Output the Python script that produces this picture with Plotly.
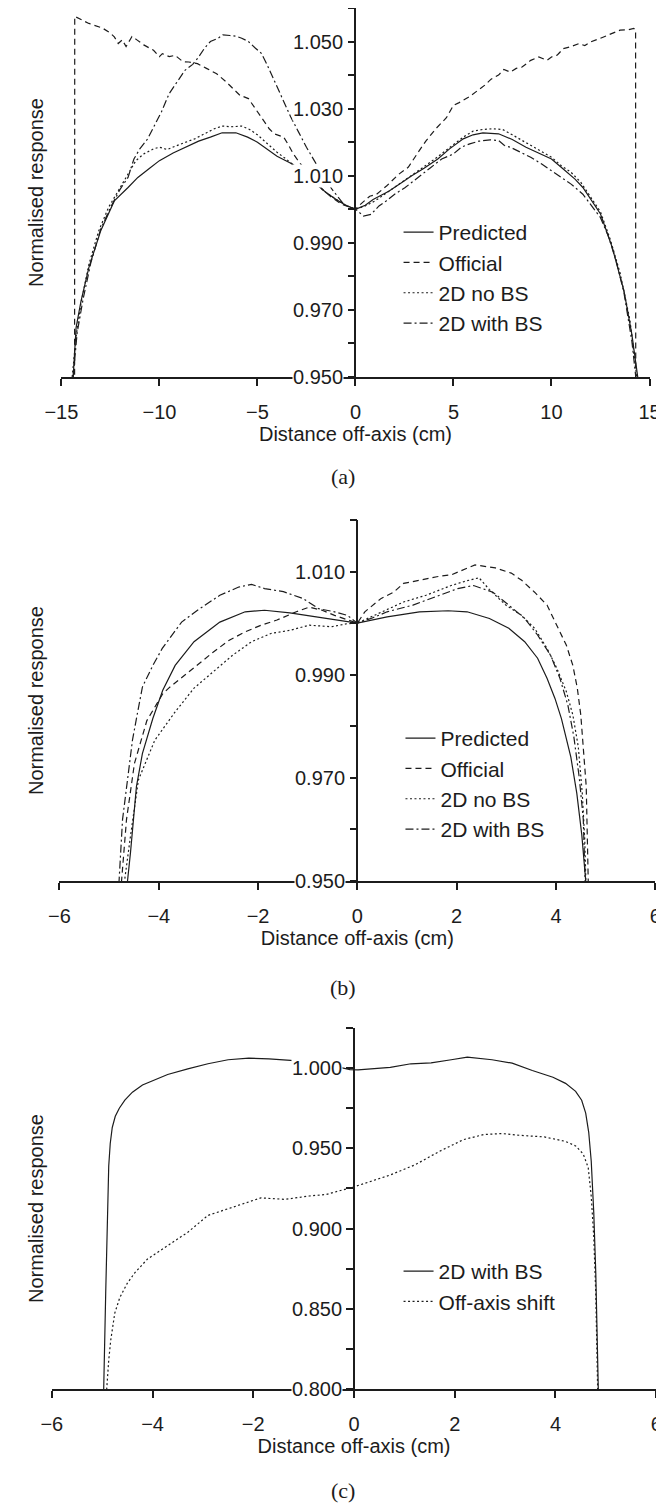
import plotly.graph_objects as go

# ---------------- Panel (a) data (field -15..15 cm) ----------------
a_pred_x = [-14.4, -14.25, -14.0, -13.6, -13.0, -12.3, -11.6, -11.1, -10.5, -10.0, -9.3, -8.7, -8.0, -7.4, -6.8, -6.1,
            -5.5, -5.0, -4.5, -4.0, -3.2, -2.6, -2.0, -1.5, -1.0, -0.5, 0.0, 0.5, 0.9, 1.7, 2.5, 2.85, 3.5, 4.2,
            4.8, 5.5, 6.0, 6.5, 7.3, 8.0, 8.7, 9.4, 10.0, 10.6, 11.2, 11.6, 12.0, 12.5, 13.1, 13.7, 14.1, 14.4]
a_pred_y = [0.950, 0.9647, 0.9726, 0.9826, 0.9935, 1.0025, 1.0065, 1.0095, 1.0122, 1.0145, 1.0168, 1.0185, 1.0203,
            1.0215, 1.0228, 1.0228, 1.0215, 1.0200, 1.0180, 1.0158, 1.0134, 1.0105, 1.0075, 1.0050, 1.0030, 1.0012,
            1.0000, 1.0012, 1.0029, 1.0054, 1.0085, 1.0099, 1.0122, 1.0150, 1.0180, 1.0210, 1.0222, 1.0228, 1.0225,
            1.0208, 1.0185, 1.0165, 1.0150, 1.0120, 1.0090, 1.0065, 1.0030, 0.9986, 0.9886, 0.9756, 0.9627, 0.950]

a_off_x = [-14.33, -14.32, -13.6, -12.9, -12.5, -12.3, -12.1, -11.9, -11.7, -11.4, -11.15, -10.8, -10.3, -10.0, -9.85,
           -9.5, -9.2, -8.8, -8.5, -8.06, -7.6, -7.08, -6.6, -6.27, -5.9, -5.46, -5.1, -4.8, -4.4, -4.15, -3.66,
           -3.4, -3.17, -2.8, -2.5, -2.1, -1.7, -1.2, -0.7, 0.0, 0.24, 0.73, 1.06, 1.6, 2.2, 2.69, 3.2, 3.6, 4.1,
           4.64, 5.0, 5.29, 5.8, 6.27, 6.6, 6.92, 7.3, 7.57, 7.9, 8.2, 8.5, 8.94, 9.35, 9.77, 10.0, 10.3, 10.6,
           11.0, 11.4, 11.7, 12.0, 12.5, 12.9, 13.2, 13.5, 13.9, 14.2, 14.29, 14.3]
a_off_y = [0.900, 1.0575, 1.0554, 1.0540, 1.0525, 1.0514, 1.0494, 1.0505, 1.0485, 1.0515, 1.0505, 1.0490, 1.0474,
           1.0455, 1.0464, 1.0455, 1.0459, 1.0440, 1.0439, 1.0434, 1.0420, 1.0404, 1.0380, 1.0360, 1.0340, 1.0330,
           1.0300, 1.0275, 1.0240, 1.0225, 1.0215, 1.0190, 1.0165, 1.0135, 1.0115, 1.0090, 1.0060, 1.0035, 1.0015,
           1.0000, 1.0014, 1.0039, 1.0044, 1.0070, 1.0104, 1.0125, 1.0170, 1.0204, 1.0240, 1.0273, 1.0310, 1.0318,
           1.0335, 1.0354, 1.0370, 1.0388, 1.0400, 1.0417, 1.0409, 1.0420, 1.0424, 1.0444, 1.0454, 1.0444, 1.0454,
           1.0460, 1.0479, 1.0485, 1.0494, 1.0488, 1.0499, 1.0510, 1.0519, 1.0525, 1.0534, 1.0535, 1.0539, 1.0535,
           0.900]

a_nobs_x = [-14.45, -14.25, -14.0, -13.6, -13.1, -12.6, -12.1, -11.6, -11.2, -10.8, -10.3, -10.0, -9.6, -9.2, -8.7,
            -8.2, -7.7, -7.2, -6.8, -6.3, -5.8, -5.4, -5.0, -4.5, -4.0, -3.5, -3.0, -2.5, -2.0, -1.5, -1.0, -0.5,
            0.0, 0.5, 1.0, 1.5, 2.0, 2.5, 3.0, 3.5, 4.0, 4.5, 5.0, 5.5, 6.0, 6.5, 7.0, 7.5, 8.0, 8.5, 9.0, 9.5,
            10.0, 10.5, 11.0, 11.5, 12.0, 12.5, 13.0, 13.5, 14.0, 14.35]
a_nobs_y = [0.950, 0.962, 0.972, 0.9835, 0.9935, 1.0005, 1.0055, 1.0105, 1.0145, 1.0165, 1.0180, 1.0185, 1.0178,
            1.0188, 1.0198, 1.0210, 1.0225, 1.0240, 1.0248, 1.0246, 1.0248, 1.0238, 1.0222, 1.0195, 1.0170, 1.0148,
            1.0125, 1.0100, 1.0075, 1.0050, 1.0030, 1.0012, 1.0000, 1.0010, 1.0025, 1.0045, 1.0065, 1.0085, 1.0105,
            1.0127, 1.0148, 1.0170, 1.0192, 1.0215, 1.0233, 1.0238, 1.0240, 1.0238, 1.0222, 1.0205, 1.0190, 1.0172,
            1.0155, 1.0130, 1.0110, 1.0080, 1.0035, 0.9992, 0.9910, 0.9810, 0.9670, 0.950]

a_bs_x = [-14.4, -14.2, -13.9, -13.5, -13.0, -12.5, -12.0, -11.6, -11.3, -11.0, -10.6, -10.3, -9.9, -9.5, -9.1,
          -8.7, -8.3, -8.0, -7.7, -7.4, -7.0, -6.76, -6.4, -6.1, -5.8, -5.46, -5.1, -4.8, -4.5, -4.15, -3.7, -3.3,
          -2.9, -2.5, -2.1, -1.7, -1.2, -0.6, 0.0, 0.41, 0.8, 1.2, 1.55, 2.0, 2.52, 3.0, 3.4, 3.83, 4.4, 5.0, 5.4,
          5.83, 6.3, 6.87, 7.3, 7.6, 7.9, 8.4, 8.94, 9.5, 10.0, 10.5, 11.0, 11.6, 12.0, 12.5, 12.9, 13.3, 13.7,
          14.1, 14.3]
a_bs_y = [0.950, 0.963, 0.973, 0.984, 0.994, 1.0005, 1.0060, 1.0095, 1.0150, 1.0180, 1.0210, 1.0245, 1.0290, 1.0345,
          1.0380, 1.0414, 1.0432, 1.0454, 1.0480, 1.0500, 1.0510, 1.0520, 1.0518, 1.0516, 1.0510, 1.0500, 1.0480,
          1.0465, 1.0430, 1.0385, 1.0330, 1.0275, 1.0230, 1.0185, 1.0145, 1.0105, 1.0060, 1.0015, 1.0000, 0.9980,
          0.9985, 1.0010, 1.0024, 1.0045, 1.0064, 1.0085, 1.0105, 1.0124, 1.0150, 1.0165, 1.0185, 1.0195, 1.0203,
          1.0207, 1.0205, 1.0190, 1.0185, 1.0170, 1.0155, 1.0135, 1.0115, 1.0095, 1.0075, 1.0045, 1.0015, 0.9975,
          0.9920, 0.9846, 0.9750, 0.9607, 0.950]

# ---------------- Panel (b) data (field -6..6 cm) ----------------
b_pred_x = [-4.66, -4.63, -4.57, -4.45, -4.33, -4.12, -3.92, -3.67, -3.29, -2.77, -2.26, -1.87, -1.36, -0.84, -0.33,
            0.0, 0.6, 1.25, 1.83, 2.21, 2.66, 3.05, 3.37, 3.63, 3.82, 3.98, 4.11, 4.3, 4.42, 4.52, 4.6, 4.63]
b_pred_y = [0.940, 0.950, 0.9555, 0.9683, 0.9747, 0.9815, 0.9870, 0.9918, 0.9964, 1.0002, 1.0022, 1.0025, 1.0020,
            1.0012, 1.0004, 1.0000, 1.0012, 1.0022, 1.0024, 1.0022, 1.0009, 0.9990, 0.9964, 0.9932, 0.9893, 0.9854,
            0.9815, 0.9740, 0.9670, 0.9590, 0.950, 0.940]

b_off_x = [-4.8, -4.75, -4.65, -4.49, -4.24, -3.92, -3.8, -3.48, -3.16, -2.9, -2.58, -2.26, -1.94, -1.62, -1.23,
           -0.97, -0.71, -0.46, 0.0, 0.15, 0.48, 0.73, 0.93, 1.25, 1.6, 1.9, 2.12, 2.37, 2.78, 3.1, 3.31, 3.57,
           3.82, 4.02, 4.21, 4.34, 4.43, 4.5, 4.56, 4.61, 4.65, 4.68]
b_off_y = [0.940, 0.950, 0.9619, 0.9728, 0.9811, 0.9863, 0.9874, 0.9899, 0.9925, 0.9944, 0.9967, 0.9983, 0.9996,
           1.0006, 1.0022, 1.0031, 1.0025, 1.0015, 1.0000, 1.0022, 1.0048, 1.0060, 1.0077, 1.0083, 1.0090, 1.0094,
           1.0103, 1.0113, 1.0107, 1.0097, 1.0083, 1.0060, 1.0035, 0.9996, 0.9957, 0.9918, 0.9874, 0.9822, 0.9750,
           0.9683, 0.950, 0.940]

b_nobs_x = [-4.72, -4.69, -4.57, -4.41, -4.08, -3.67, -3.29, -2.9, -2.51, -2.13, -1.74, -1.36, -0.97, -0.52, -0.2,
            0.0, 0.35, 0.93, 1.38, 1.89, 2.2, 2.45, 2.66, 2.99, 3.31, 3.57, 3.82, 4.02, 4.21, 4.34, 4.45, 4.53,
            4.58, 4.61, 4.63]
b_nobs_y = [0.940, 0.950, 0.9587, 0.9696, 0.9773, 0.9828, 0.9874, 0.9906, 0.9938, 0.9964, 0.9980, 0.9986, 0.9996,
            0.9993, 0.9999, 1.0000, 1.0015, 1.0041, 1.0054, 1.0073, 1.0082, 1.0088, 1.0065, 1.0035, 1.0015, 0.9990,
            0.9951, 0.9912, 0.9867, 0.9822, 0.9760, 0.9670, 0.9580, 0.950, 0.940]

b_bs_x = [-4.83, -4.8, -4.73, -4.65, -4.53, -4.45, -4.33, -4.12, -3.93, -3.54, -3.22, -2.77, -2.39, -2.13, -1.87,
          -1.49, -1.1, -0.78, -0.46, -0.2, 0.0, 0.3, 0.6, 1.12, 1.57, 2.02, 2.34, 2.73, 3.05, 3.37, 3.63, 3.89,
          4.08, 4.24, 4.36, 4.47, 4.55, 4.6, 4.62]
b_bs_y = [0.940, 0.950, 0.9619, 0.9683, 0.9773, 0.9815, 0.9876, 0.9918, 0.9951, 1.0002, 1.0025, 1.0054, 1.0070,
          1.0075, 1.0067, 1.0061, 1.0048, 1.0028, 1.0022, 1.0015, 1.0000, 1.0010, 1.0022, 1.0035, 1.0051, 1.0067,
          1.0073, 1.0060, 1.0035, 1.0009, 0.9977, 0.9938, 0.9893, 0.9841, 0.9780, 0.9700, 0.9620, 0.950, 0.940]

# ---------------- Panel (c) data ----------------
c_bs_x = [-5.0, -4.97, -4.93, -4.91, -4.89, -4.87, -4.84, -4.8, -4.74, -4.66, -4.55, -4.4, -4.2, -3.95, -3.7, -3.3,
          -2.9, -2.5, -2.09, -1.69, -1.37, -0.9, -0.5, -0.08, 0.08, 0.72, 1.13, 1.53, 1.93, 2.25, 2.74, 3.14, 3.54,
          3.95, 4.2, 4.4, 4.52, 4.6, 4.66, 4.71, 4.76, 4.8, 4.85, 4.87]
c_bs_y = [0.780, 0.800, 0.8600, 0.8935, 0.9180, 0.9390, 0.9530, 0.9630, 0.9700, 0.9750, 0.9800, 0.9850, 0.9895,
          0.9930, 0.9960, 0.9995, 1.0027, 1.0052, 1.0062, 1.0058, 1.0052, 1.0040, 1.0020, 0.9991, 0.9989, 1.0005,
          1.0027, 1.0033, 1.0052, 1.0069, 1.0052, 1.0031, 0.9985, 0.9943, 0.9905, 0.9855, 0.9800, 0.9720, 0.9600,
          0.9420, 0.9100, 0.8725, 0.800, 0.780]

c_shift_x = [-4.93, -4.91, -4.87, -4.83, -4.75, -4.65, -4.5, -4.35, -4.1, -3.7, -3.3, -2.9, -2.5, -2.09, -1.85,
             -1.37, -0.89, -0.56, 0.0, 0.72, 1.21, 1.69, 2.17, 2.58, 2.94, 3.3, 3.78, 4.19, 4.4, 4.55, 4.65, 4.71,
             4.76, 4.8, 4.83, 4.85]
c_shift_y = [0.780, 0.800, 0.8180, 0.8305, 0.8473, 0.8570, 0.8660, 0.8725, 0.8810, 0.8893, 0.8977, 0.9082, 0.9124,
             0.9166, 0.9191, 0.9182, 0.9203, 0.9212, 0.9260, 0.9334, 0.9397, 0.9480, 0.9554, 0.9586, 0.9592, 0.9581,
             0.9571, 0.9544, 0.9515, 0.9465, 0.9380, 0.9200, 0.8950, 0.8600, 0.800, 0.780]

# ---------------- tick labels / ranges ----------------
a_ytick_vals = [0.95, 0.97, 0.99, 1.01, 1.03, 1.05]
b_ytick_vals = [0.95, 0.97, 0.99, 1.01]
c_ytick_vals = [0.80, 0.85, 0.90, 0.95, 1.00]
a_xticks = [-15, -10, -5, 0, 5, 10, 15]
bc_xticks = [-6, -4, -2, 0, 2, 4, 6]

W, H = 664, 1504
INK = "#1c1c1c"
FONT = "Liberation Sans, Arial, sans-serif"
SERIF = "Liberation Serif, Times New Roman, serif"

def px2x(p):
    return p / W

def py2y(p):
    return 1 - p / H

# panel geometry in pixels: (x_left, x_right, y_top, y_bottom)
panels = {
    "a": (38, 652, 0, 369),
    "b": (36, 658, 512, 873),
    "c": (28, 659, 1020, 1381),
}

STYLE = {
    "solid": dict(dash="solid"),
    "dash": dict(dash="6px,4px"),
    "dot": dict(dash="2px,2.5px"),
    "dashdot": dict(dash="8px,3px,2px,3px"),
}

fig = go.Figure()

def add(x, y, name, style, idx, legend):
    ax = "" if idx == 1 else str(idx)
    fig.add_trace(go.Scatter(
        x=x, y=y, mode="lines", name=name,
        line=dict(color=INK, width=1.2, **STYLE[style]),
        xaxis="x" + ax, yaxis="y" + ax, legend=legend, showlegend=True,
    ))

add(a_pred_x, a_pred_y, "Predicted", "solid", 1, "legend")
add(a_off_x, a_off_y, "Official", "dash", 1, "legend")
add(a_nobs_x, a_nobs_y, "2D no BS", "dot", 1, "legend")
add(a_bs_x, a_bs_y, "2D with BS", "dashdot", 1, "legend")

add(b_pred_x, b_pred_y, "Predicted", "solid", 2, "legend2")
add(b_off_x, b_off_y, "Official", "dash", 2, "legend2")
add(b_nobs_x, b_nobs_y, "2D no BS", "dot", 2, "legend2")
add(b_bs_x, b_bs_y, "2D with BS", "dashdot", 2, "legend2")

add(c_bs_x, c_bs_y, "2D with BS", "solid", 3, "legend3")
add(c_shift_x, c_shift_y, "Off-axis shift", "dot", 3, "legend3")

axis_common = dict(showgrid=False, zeroline=False, showline=True, linecolor=INK, linewidth=1.5,
                   ticks="outside", ticklen=7, tickwidth=1.5, tickcolor=INK,
                   tickfont=dict(family=FONT, size=20, color=INK))

specs = [
    ("a", 1, [-15, 15], a_xticks, [0.95, 1.06], 0.02, 0.01, a_ytick_vals),
    ("b", 2, [-6, 6], bc_xticks, [0.95, 1.02], 0.02, 0.01, b_ytick_vals),
    ("c", 3, [-6, 6], bc_xticks, [0.80, 1.025], 0.05, 0.025, c_ytick_vals),
]

annotations = []
for key, idx, xr, xt, yr, dmaj, dmin, yvals in specs:
    xl, xrp, yt, yb = panels[key]
    ax = "" if idx == 1 else str(idx)
    xdom = [px2x(xl), px2x(xrp)]
    ydom = [py2y(yb), py2y(yt)]
    fig.layout["xaxis" + ax] = dict(
        domain=xdom, range=xr, tickvals=xt, anchor="y" + ax, ticklabelstandoff=9,
        title=dict(text="Distance off-axis (cm)", font=dict(family=FONT, size=20, color=INK), standoff=3),
        **axis_common)
    fig.layout["yaxis" + ax] = dict(
        domain=ydom, range=yr, tick0=yr[0], dtick=dmaj, anchor="free",
        position=(xdom[0] + xdom[1]) / 2, showticklabels=False,
        minor=dict(dtick=dmin, ticks="outside", ticklen=7, tickwidth=1.5, tickcolor=INK),
        **axis_common)
    # y tick labels (drawn with white background like the original)
    for v in yvals:
        annotations.append(dict(
            x=0, y=v, xref="x" + ax, yref="y" + ax, text=f"{v:.3f}", showarrow=False,
            xanchor="right", yanchor="middle", xshift=-11, bgcolor="white", borderpad=0,
            font=dict(family=FONT, size=20, color=INK)))
    # y axis title
    annotations.append(dict(
        x=px2x(11), y=(ydom[0] + ydom[1]) / 2, xref="paper", yref="paper",
        text="Normalised response", textangle=-90, showarrow=False,
        xanchor="center", yanchor="middle", font=dict(family=FONT, size=20, color=INK)))

captions = [("(a)", 468), ("(b)", 980), ("(c)", 1482)]
for txt, ypx in captions:
    annotations.append(dict(
        x=0.5, y=py2y(ypx), xref="paper", yref="paper", text=txt, showarrow=False,
        xanchor="center", yanchor="middle", font=dict(family=SERIF, size=22, color=INK)))

leg_common = dict(xanchor="left", yanchor="top", bgcolor="rgba(0,0,0,0)", borderwidth=0,
                  font=dict(family=FONT, size=21, color=INK), itemwidth=30, tracegroupgap=0)

fig.update_layout(
    width=W, height=H, autosize=False,
    margin=dict(l=0, r=0, t=0, b=0),
    paper_bgcolor="white", plot_bgcolor="white",
    showlegend=True,
    legend=dict(x=px2x(390), y=py2y(204), **leg_common),
    legend2=dict(x=px2x(392), y=py2y(710), **leg_common),
    legend3=dict(x=px2x(390), y=py2y(1243), **leg_common),
    annotations=annotations,
)

fig.write_html("out.html")
